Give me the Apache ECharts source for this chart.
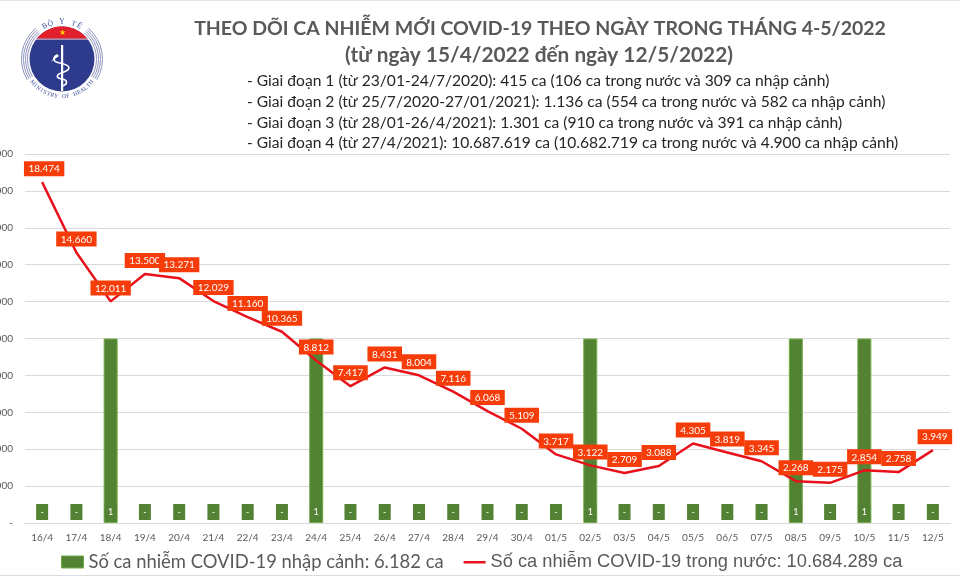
<!DOCTYPE html>
<html>
<head>
<meta charset="utf-8">
<style>html,body{margin:0;background:#fff}#chart{width:960px;height:576px}</style>
<script src="https://cdn.jsdelivr.net/npm/echarts@6/dist/echarts.min.js"></script>
</head>
<body>
<div id="chart"></div>
<script>
const days = ['16/4','17/4','18/4','19/4','20/4','21/4','22/4','23/4','24/4','25/4','26/4','27/4','28/4','29/4','30/4',
  '01/5','02/5','03/5','04/5','05/5','06/5','07/5','08/5','09/5','10/5','11/5','12/5']
const domestic = [18474,14660,12011,13500,13271,12029,11160,10365,8812,7417,8431,8004,7116,6068,5109,
  3717,3122,2709,3088,4305,3819,3345,2268,2175,2854,2758,3949]
const imported = [0,0,1,0,0,0,0,0,1,0,0,0,0,0,0,0,1,0,0,0,0,0,1,0,1,0,0]
const importedName = 'Số ca nhiễm COVID-19 nhập cảnh: 6.182 ca'
const domesticName = 'Số ca nhiễm COVID-19 trong nước: 10.684.289 ca'
const titleLines = ['THEO DÕI CA NHIỄM MỚI COVID-19 THEO NGÀY TRONG THÁNG 4-5/2022', '(từ ngày 15/4/2022 đến ngày 12/5/2022)']
const stageLines = [
  '- Giai đoạn 1 (từ 23/01-24/7/2020): 415 ca (106 ca trong nước và 309 ca nhập cảnh)',
  '- Giai đoạn 2 (từ 25/7/2020-27/01/2021): 1.136 ca (554 ca trong nước và 582 ca nhập cảnh)',
  '- Giai đoạn 3 (từ 28/01-26/4/2021): 1.301 ca (910 ca trong nước và 391 ca nhập cảnh)',
  '- Giai đoạn 4 (từ 27/4/2021): 10.687.619 ca (10.682.719 ca trong nước và 4.900 ca nhập cảnh)'
]

const SANS = 'Lato, "Noto Sans", sans-serif'
const RED = '#e8101a'
const dotted = (v) => String(v).replace(/\B(?=(\d{3})+$)/g, '.')

const titles = [
  { text: titleLines[0], left: 535, top: 14, textAlign: 'center', textStyle: { fontFamily: SANS, fontSize: 19.5, fontWeight: 'bold', color: '#595959' } },
  { text: titleLines[1], left: 534, top: 40, textAlign: 'center', textStyle: { fontFamily: SANS, fontSize: 20.8, fontWeight: 'bold', color: '#595959' } }
].concat(stageLines.map((t, i) => ({
  text: t, left: 242, top: 68 + i * 20.8,
  textStyle: { fontFamily: SANS, fontSize: 15.6, fontWeight: 'normal', color: '#262626' }
})))

// ministry logo, plain shapes
const CX = 62, CY = 59, R = 32.5
const ink = '#3a4a9c'
const bentText = (text, radius, midAngle, step, size, inward) => text.split('').map((ch, i) => {
  const a = midAngle + (i - (text.length - 1) / 2) * step * (inward ? -1 : 1)
  return {
    type: 'text', x: CX + radius * Math.cos(a), y: CY + radius * Math.sin(a),
    rotation: inward ? Math.PI / 2 - a : -a - Math.PI / 2,
    style: { text: ch, fill: ink, fontSize: size, fontFamily: 'Liberation Serif', align: 'center', verticalAlign: 'middle' }
  }
})
const rings = []
;[34.5, 36.5, 38.5, 40.5].forEach((r) => {
  rings.push({ type: 'arc', shape: { cx: CX, cy: CY, r, startAngle: 2.6, endAngle: 4.0, clockwise: true }, style: { stroke: '#8d93bd', fill: null, lineWidth: 1 } })
  rings.push({ type: 'arc', shape: { cx: CX, cy: CY, r, startAngle: -0.86, endAngle: 0.54, clockwise: true }, style: { stroke: '#8d93bd', fill: null, lineWidth: 1 } })
})
// red cap of the disc, above the chord at y 38.5
const capEdge = Math.asin(20.5 / R)
const capPoints = []
for (let a = -Math.PI + capEdge; a <= -capEdge + 0.001; a += (Math.PI - 2 * capEdge) / 24) {
  capPoints.push([CX + R * Math.cos(a), CY + R * Math.sin(a)])
}
const snake = [
  [57, 55, 52, 58, 53, 62, 60, 63],
  [60, 63, 70, 65, 72, 69, 64, 72],
  [64, 72, 56, 74, 55, 78, 62, 79],
  [62, 79, 68, 80, 68, 84, 62, 86]
].map((s) => ({
  type: 'bezierCurve',
  shape: { x1: s[0], y1: s[1], cpx1: s[2], cpy1: s[3], cpx2: s[4], cpy2: s[5], x2: s[6], y2: s[7] },
  style: { stroke: '#fff', fill: null, lineWidth: 1.6 }
}))
const logo = rings.concat([
  { type: 'circle', shape: { cx: CX, cy: CY, r: R }, style: { fill: '#2e3a8c' } },
  { type: 'polygon', shape: { points: capPoints }, style: { fill: '#e2202c' } },
  { type: 'rect', shape: { x: 36, y: 38.5, width: 52, height: 1.2 }, style: { fill: '#d9a7b5' } },
  { type: 'text', style: { text: '★', x: CX, y: 33, fill: '#ffd400', fontSize: 8, align: 'center', verticalAlign: 'middle' } },
  { type: 'rect', shape: { x: 61, y: 45, width: 2.2, height: 46 }, style: { fill: '#fff' } },
  { type: 'polygon', shape: { points: [[51, 62], [57, 54], [59, 56]] }, style: { fill: '#fff' } }
]).concat(
  snake,
  bentText('BỘ Y TẾ', 37, -Math.PI / 2, 0.16, 7.5, false),
  bentText('MINISTRY OF HEALTH', 37.5, Math.PI / 2, 0.105, 5.8, true),
  [
    { type: 'rect', shape: { x: 0, y: 0, width: 960, height: 1 }, style: { fill: '#e4e4e4' } },
    { type: 'rect', shape: { x: 0, y: 575, width: 960, height: 1 }, style: { fill: '#dcdcdc' } }
  ]
)

const chart = echarts.init(document.getElementById('chart'))
chart.setOption({
  animation: false,
  title: titles,
  graphic: { elements: logo },
  grid: { left: 25, right: 10, top: 154, bottom: 53, outerBoundsMode: 'none' },
  legend: {
    left: 61, top: 553, padding: 0, itemGap: 20, itemWidth: 22, itemHeight: 12,
    data: [
      { name: importedName, icon: 'rect', itemStyle: { color: '#548235', borderColor: '#70ad47', borderWidth: 1 },
        textStyle: { fontFamily: SANS, fontSize: 18.4, color: '#595959' } },
      { name: domesticName, icon: 'path://M0 0h0v12h0zM0 5h24v2.5H0z', itemStyle: { color: RED, borderWidth: 0 },
        textStyle: { fontFamily: '"Liberation Sans", sans-serif', fontSize: 18.25, color: '#595959' } }
    ]
  },
  xAxis: {
    type: 'category', data: days,
    axisLine: { lineStyle: { color: '#d9d9d9' } }, axisTick: { show: false },
    axisLabel: { color: '#595959', fontSize: 10, fontFamily: SANS, margin: 10, interval: 0 }
  },
  yAxis: [
    {
      min: 0, max: 20000, interval: 2000,
      axisLine: { show: false }, axisTick: { show: false },
      splitLine: { lineStyle: { color: '#d9d9d9' } },
      axisLabel: { color: '#595959', fontSize: 10, fontFamily: SANS, margin: 12, formatter: (v) => v === 0 ? '-' : dotted(v) }
    },
    { min: 0, max: 2, show: false }
  ],
  series: [
    {
      name: importedName, type: 'bar', yAxisIndex: 1, barWidth: 14,
      data: imported.map((v) => v === 0 ? { value: v, itemStyle: { color: 'transparent', borderWidth: 0 } } : v),
      itemStyle: { color: '#548235', borderColor: '#70ad47', borderWidth: 1 },
      label: {
        show: true, position: 'insideBottom', distance: 3, color: '#fff', fontSize: 9, fontFamily: SANS,
        width: 12, height: 16, lineHeight: 16, align: 'center', backgroundColor: '#548235',
        formatter: (p) => p.value === 0 ? '-' : String(p.value)
      },
      z: 2
    },
    {
      name: domesticName, type: 'line', symbol: 'circle', symbolSize: 0, showAllSymbol: true,
      // first and last labels sit a little to the right in the original
      data: domestic.map((v, i) => i === 0 || i === domestic.length - 1 ? { value: v, label: { offset: [2, 0] } } : v),
      lineStyle: { color: RED, width: 2.5 }, itemStyle: { color: RED },
      label: {
        show: true, position: 'top', distance: 6, color: '#fff', fontSize: 10, fontFamily: SANS,
        padding: [3, 4.5, 2, 4.5], backgroundColor: '#f53c09',
        formatter: (p) => dotted(p.value)
      },
      z: 3
    }
  ]
})
</script>
</body>
</html>
